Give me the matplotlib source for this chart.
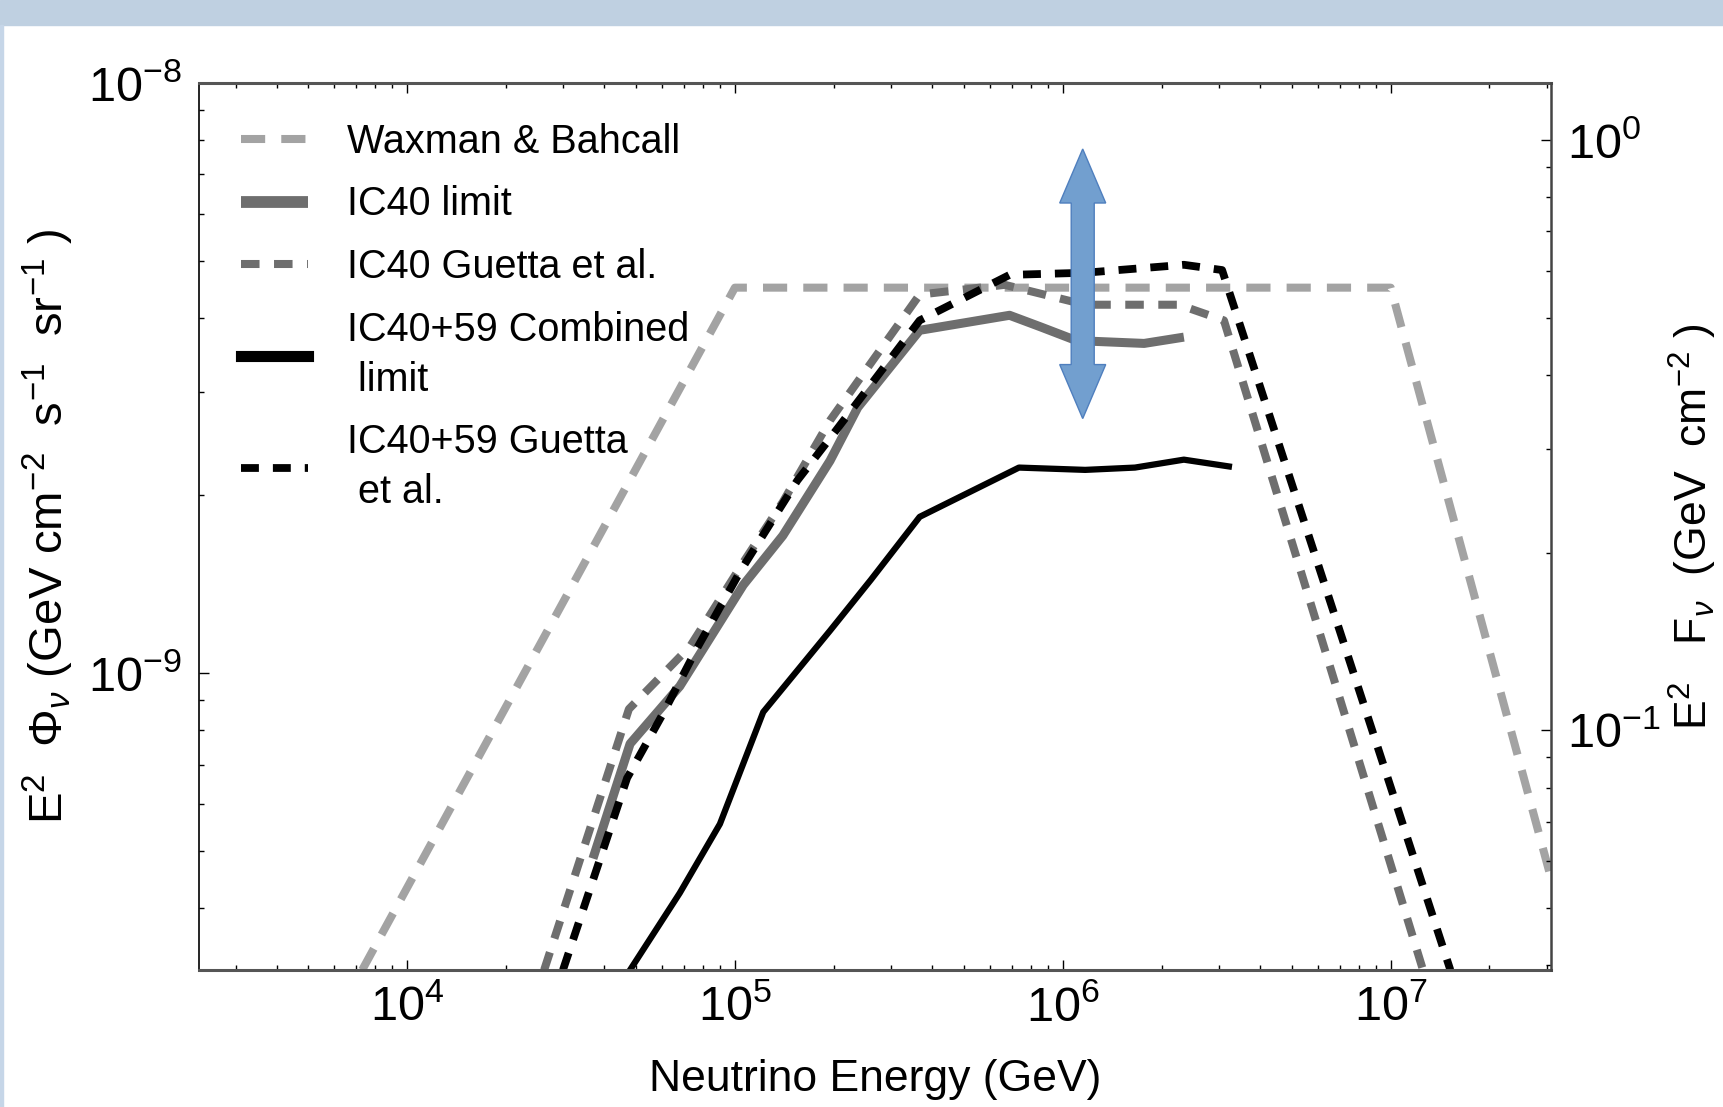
import matplotlib
matplotlib.use('Agg')
import matplotlib.pyplot as plt
from matplotlib import font_manager
from matplotlib.patches import Rectangle, Polygon
from matplotlib.ticker import NullFormatter
from matplotlib.transforms import IdentityTransform


# energies in GeV, E^2 flux in GeV cm^-2 s^-1 sr^-1
wb_e = [7.3e3, 1.0e5, 1.0e7, 3.08e7]
wb_f = [3.14e-10, 4.5e-9, 4.5e-9, 4.5e-10]

ic40_e = [3.69e4, 4.79e4, 6.79e4, 1.06e5, 1.40e5, 1.95e5, 2.37e5, 3.66e5,
          6.88e5, 8.57e5, 1.10e6, 1.77e6, 2.34e6]
ic40_f = [4.85e-10, 7.59e-10, 9.5e-10, 1.41e-9, 1.71e-9, 2.29e-9, 2.82e-9, 3.81e-9,
          4.04e-9, 3.86e-9, 3.66e-9, 3.62e-9, 3.71e-9]

ic40g_e = [2.62e4, 4.75e4, 7.3e4, 1.06e5, 1.40e5, 1.95e5, 3.66e5, 6.65e5,
           1.17e6, 2.26e6, 3.10e6, 1.25e7]
ic40g_f = [3.14e-10, 8.69e-10, 1.11e-9, 1.54e-9, 1.95e-9, 2.68e-9, 4.38e-9, 4.55e-9,
           4.21e-9, 4.21e-9, 3.96e-9, 3.16e-10]

comb_e = [4.79e4, 6.79e4, 9.0e4, 1.22e5, 1.95e5, 2.60e5, 3.66e5, 7.35e5,
          1.17e6, 1.66e6, 2.34e6, 3.21e6]
comb_f = [3.14e-10, 4.24e-10, 5.55e-10, 8.59e-10, 1.18e-9, 1.44e-9, 1.84e-9, 2.23e-9,
          2.21e-9, 2.23e-9, 2.30e-9, 2.24e-9]

combg_e = [2.99e4, 4.69e4, 6.03e4, 7.65e4, 1.04e5, 1.55e5, 1.95e5, 3.66e5,
           6.88e5, 1.17e6, 2.34e6, 3.06e6, 1.52e7]
combg_f = [3.14e-10, 6.64e-10, 8.53e-10, 1.10e-9, 1.49e-9, 2.12e-9, 2.50e-9, 3.96e-9,
           4.73e-9, 4.77e-9, 4.92e-9, 4.82e-9, 3.14e-10]

labels = ['Waxman & Bahcall', 'IC40 limit', 'IC40 Guetta et al.',
          'IC40+59 Combined\n limit', 'IC40+59 Guetta\n et al.']

x_ticks = [1e4, 1e5, 1e6, 1e7]
x_ticklabels = [r'$\mathregular{10^{4}}$', r'$\mathregular{10^{5}}$',
                r'$\mathregular{10^{6}}$', r'$\mathregular{10^{7}}$']
y_ticks = [1e-9, 1e-8]
y_ticklabels = [r'$\mathregular{10^{-9}}$', r'$\mathregular{10^{-8}}$']
y2_ticks = [1e-1, 1e0]
y2_ticklabels = [r'$\mathregular{10^{-1}}$', r'$\mathregular{10^{0}}$']

# the double arrow marking the gap (energy, low, high)
arrow_e, arrow_lo, arrow_hi = 1.15e6, 2.70e-9, 7.73e-9


installed = {f.name for f in font_manager.fontManager.ttflist}
narrow = 'Liberation Sans Narrow' if 'Liberation Sans Narrow' in installed else 'Liberation Sans'

plt.rcParams['font.family'] = ['Liberation Sans', 'DejaVu Sans']
plt.rcParams['mathtext.fontset'] = 'custom'
plt.rcParams['mathtext.rm'] = 'Liberation Sans'
plt.rcParams['mathtext.it'] = 'Liberation Sans:italic'
plt.rcParams['mathtext.bf'] = 'Liberation Sans:bold'

fig = plt.figure(figsize=(17.24, 11.07), dpi=100)

# slide frame: band on top, thin line on the left
fig.patches.append(Rectangle((0, 1 - 25 / 1107), 1, 25 / 1107, transform=fig.transFigure,
                             color='#BFD0E1', zorder=0))
fig.patches.append(Rectangle((0, 0), 3 / 1724, 1 - 25 / 1107, transform=fig.transFigure,
                             color='#C6D6E8', zorder=0))

ax = fig.add_axes([0.1154, 0.1238, 0.7842, 0.8012])
ax.set_xscale('log')
ax.set_yscale('log')

ax.plot(wb_e, wb_f, color='#A3A3A3', lw=5.8, dashes=(3, 2), label=labels[0])
ax.plot(ic40_e, ic40_f, color='#6E6E6E', lw=6.5, solid_capstyle='butt', label=labels[1])
ax.plot(ic40g_e, ic40g_f, color='#6E6E6E', lw=5.8, dashes=(2.3, 1.8), label=labels[2])
ax.plot(comb_e, comb_f, color='black', lw=4.5, label=labels[3])
ax.plot(combg_e, combg_f, color='black', lw=5.6, dashes=(2.3, 1.8), label=labels[4])

ax.set_xlim(2.32e3, 3.08e7)
ax.set_ylim(3.14e-10, 1e-8)

ax.set_xticks(x_ticks)
ax.set_xticklabels(x_ticklabels, family=narrow, fontsize=35)
ax.set_yticks(y_ticks)
ax.set_yticklabels(y_ticklabels, fontsize=35)
ax.xaxis.set_minor_formatter(NullFormatter())
ax.yaxis.set_minor_formatter(NullFormatter())
ax.tick_params(which='both', direction='in', top=True, right=False, width=1, color='black')
ax.tick_params(which='major', length=7.2)
ax.tick_params(which='minor', length=3.6)
ax.tick_params(axis='x', pad=11)
ax.tick_params(axis='y', pad=12)

for side in ['top', 'bottom']:
    ax.spines[side].set_linewidth(2.2)
    ax.spines[side].set_color('#555555')
ax.spines['left'].set_linewidth(1.2)
ax.spines['right'].set_visible(False)

ax.set_xlabel('Neutrino Energy (GeV)', fontsize=32)
ax.xaxis.set_label_coords(0.5, -0.100)
ax.set_ylabel(r'E$^{2}$  $\Phi_{\nu}$ (GeV cm$^{-2}$  s$^{-1}$  sr$^{-1}$ )', fontsize=34)
ax.yaxis.set_label_coords(-0.111, 0.5)
ax.yaxis.label.set_va('center')

leg = ax.legend(loc='upper left', bbox_to_anchor=(0.031, 0.955), frameon=False,
                prop={'family': 'Liberation Sans', 'size': 28.5}, handlelength=1.7,
                handletextpad=0.98, labelspacing=0.62, borderaxespad=0, borderpad=0)
for t in leg.get_texts():
    t.set_linespacing(1.4)
leg.get_lines()[1].set_linewidth(8.5)
leg.get_lines()[3].set_linewidth(8)

# right-hand axis in fluence units
ax2 = ax.twinx()
ax2.set_yscale('log')
ax2.set_ylim(0.0393, 1.248)
ax2.set_yticks(y2_ticks)
ax2.set_yticklabels(y2_ticklabels, fontsize=35)
ax2.yaxis.set_minor_formatter(NullFormatter())
ax2.tick_params(which='both', direction='in', width=1, color='black', pad=11.5)
ax2.tick_params(which='major', length=7.2)
ax2.tick_params(which='minor', length=3.6)
for side in ['top', 'bottom', 'left']:
    ax2.spines[side].set_visible(False)
ax2.spines['right'].set_linewidth(1.8)
ax2.spines['right'].set_color('#444444')
ax2.set_ylabel(r'E$^{2}$   F$_{\nu}$  (GeV  cm$^{-2}$ )', fontsize=32, family=narrow)
ax2.yaxis.set_label_coords(1.105, 0.5)
ax2.yaxis.label.set_va('center')

# double-headed arrow, built in pixels around its data anchor
xc, yb = ax.transData.transform((arrow_e, arrow_lo))
_, yt = ax.transData.transform((arrow_e, arrow_hi))
hw, sw, hl = 23, 11.5, 54
verts = [(xc, yt), (xc + hw, yt - hl), (xc + sw, yt - hl), (xc + sw, yb + hl),
         (xc + hw, yb + hl), (xc, yb), (xc - hw, yb + hl), (xc - sw, yb + hl),
         (xc - sw, yt - hl), (xc - hw, yt - hl)]
fig.add_artist(Polygon(verts, closed=True, transform=IdentityTransform(),
                       facecolor='#729FCF', edgecolor='#4F7FBE', lw=1, zorder=10))

fig.savefig('out.png', dpi=100)
